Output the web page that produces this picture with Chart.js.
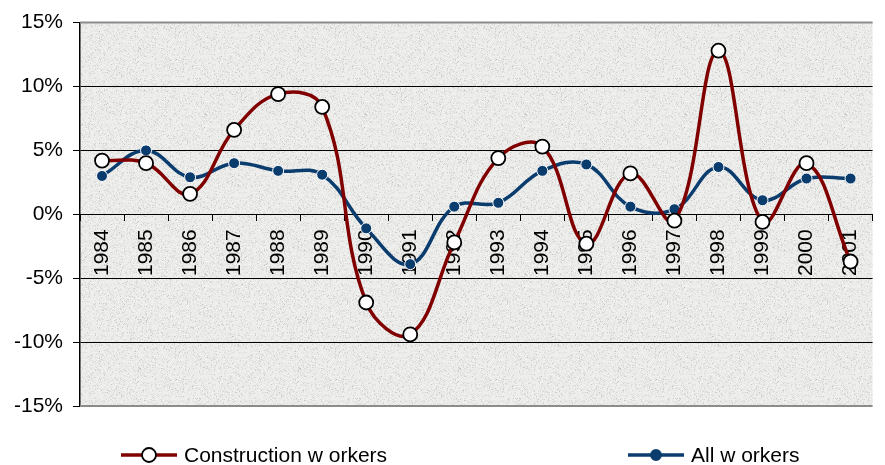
<!DOCTYPE html>
<html>
<head>
<meta charset="utf-8">
<script src="https://cdn.jsdelivr.net/npm/chart.js@4/dist/chart.umd.min.js"></script>
<style>
  body { margin: 0; background: #fff; }
  #wrap { position: relative; width: 885px; height: 465px; }
  .leg { position: absolute; top: 443px; font: 21px "Liberation Sans", Arial, sans-serif; color: #000; display: flex; align-items: center; white-space: pre; }
  .leg canvas { margin-right: 6px; }
</style>
</head>
<body>
<div id="wrap">
  <canvas id="chart" width="885" height="465"></canvas>
  <div class="leg" style="left:120px"><canvas id="lg1" width="58" height="20"></canvas>Construction w orkers</div>
  <div class="leg" style="left:627px"><canvas id="lg2" width="58" height="20"></canvas>All w orkers</div>
</div>
<script>
"use strict";
var years = ['1984', '1985', '1986', '1987', '1988', '1989', '1990', '1991', '1992',
  '1993', '1994', '1995', '1996', '1997', '1998', '1999', '2000', '2001'];
var construction = [4.2, 4.0, 1.6, 6.6, 9.4, 8.4, -6.9, -9.4, -2.2,
  4.4, 5.3, -2.3, 3.2, -0.5, 12.8, -0.6, 4.0, -3.7];
var allWorkers = [3.0, 5.0, 2.9, 4.0, 3.4, 3.1, -1.1, -3.9, 0.6,
  0.9, 3.4, 3.9, 0.6, 0.4, 3.7, 1.1, 2.8, 2.8];
var yTicks = [-15, -10, -5, 0, 5, 10, 15];

var RED = '#800000';
var BLUE = '#0b3c6e';
var FONT = '"Liberation Sans", Arial, sans-serif';

// grainy grey background for the plot
function makeTexture() {
  var c = document.createElement('canvas');
  c.width = 160; c.height = 160;
  var g = c.getContext('2d');
  var img = g.createImageData(160, 160);
  var seed = 12345;
  function rnd() { seed = (seed * 1103515245 + 12345) & 0x7fffffff; return seed / 0x7fffffff; }
  for (var i = 0; i < 160 * 160; i++) {
    var v = 240 - Math.floor(rnd() * rnd() * rnd() * 60);
    img.data[i * 4] = v; img.data[i * 4 + 1] = v; img.data[i * 4 + 2] = v - 1; img.data[i * 4 + 3] = 255;
  }
  g.putImageData(img, 0, 0);
  return c;
}

var bgPlugin = {
  id: 'bg',
  beforeDraw(chart) {
    var a = chart.chartArea, ctx = chart.ctx;
    ctx.save();
    ctx.fillStyle = ctx.createPattern(makeTexture(), 'repeat');
    ctx.fillRect(a.left, a.top, a.right - a.left, a.bottom - a.top);
    ctx.restore();
  },
  afterDraw(chart) {
    var a = chart.chartArea, ctx = chart.ctx;
    ctx.save();
    ctx.strokeStyle = '#8c8c8c';
    ctx.lineWidth = 2;
    ctx.beginPath();
    ctx.moveTo(a.left, a.top); ctx.lineTo(a.right, a.top);
    ctx.moveTo(a.left, a.bottom); ctx.lineTo(a.right, a.bottom);
    ctx.stroke();
    ctx.restore();
  }
};

new Chart(document.getElementById('chart').getContext('2d'), {
  type: 'line',
  data: {
    labels: years,
    datasets: [{
      label: 'Construction workers',
      data: construction,
      borderColor: RED,
      borderWidth: 3.5,
      tension: 0.4,
      pointRadius: 7,
      pointBackgroundColor: '#fff',
      pointBorderColor: '#000',
      pointBorderWidth: 1.8
    }, {
      label: 'All workers',
      data: allWorkers,
      borderColor: BLUE,
      borderWidth: 3.5,
      tension: 0.4,
      pointRadius: 5.5,
      pointBackgroundColor: BLUE,
      pointBorderColor: '#fff',
      pointBorderWidth: 1
    }]
  },
  options: {
    responsive: false,
    animation: false,
    events: [],
    layout: { padding: { top: 22, right: 3, bottom: 59, left: 0 } },
    elements: { line: { capBezierPoints: false } },
    plugins: { legend: { display: false }, tooltip: { enabled: false } },
    scales: {
      x: {
        position: { y: 0 },
        offset: true,
        grid: { offset: true, drawOnChartArea: false, drawTicks: true, tickLength: 6, color: '#000' },
        border: { display: true, color: '#000', width: 1 },
        ticks: { minRotation: 90, maxRotation: 90, padding: 9, color: '#000', font: { family: FONT, size: 21 } }
      },
      y: {
        min: -15, max: 15,
        afterBuildTicks(axis) { axis.ticks = yTicks.map(v => ({ value: v })); },
        afterFit(axis) { axis.width = 80; },
        grid: { color: ctx => (ctx.tick && Math.abs(ctx.tick.value) === 15) ? 'rgba(0,0,0,0)' : '#000', tickLength: 7, tickColor: '#000', lineWidth: 1 },
        border: { display: true, color: '#000', width: 1.5 },
        ticks: { padding: 10, color: '#000', font: { family: FONT, size: 21 }, callback: v => v + '%' }
      }
    }
  },
  plugins: [bgPlugin]
});

// legend samples
function legendSample(id, color, fill, stroke, r) {
  var g = document.getElementById(id).getContext('2d');
  g.strokeStyle = color; g.lineWidth = 3.5;
  g.beginPath(); g.moveTo(1, 10); g.lineTo(57, 10); g.stroke();
  g.beginPath(); g.arc(29, 10, r, 0, Math.PI * 2);
  g.fillStyle = fill; g.fill();
  g.strokeStyle = stroke; g.lineWidth = 1.8; g.stroke();
}
legendSample('lg1', RED, '#fff', '#000', 7);
legendSample('lg2', BLUE, BLUE, BLUE, 5);
</script>
</body>
</html>
